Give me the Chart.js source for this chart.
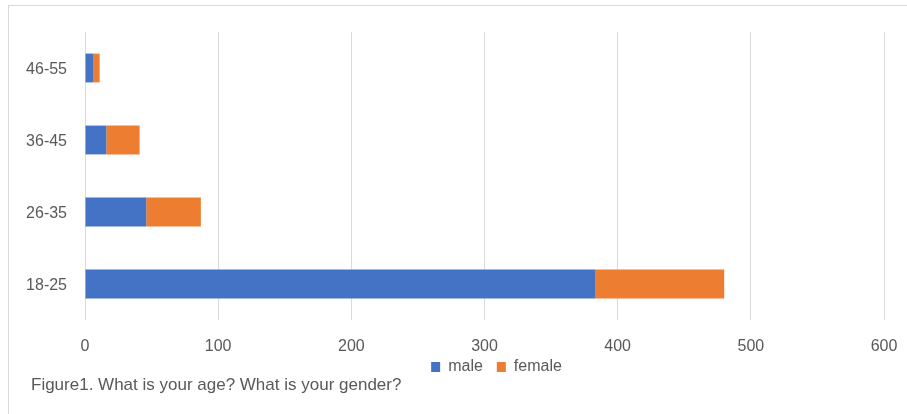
<!DOCTYPE html>
<html><head><meta charset="utf-8">
<script src="https://cdn.jsdelivr.net/npm/chart.js@4.4.0/dist/chart.umd.min.js"></script>
<style>
html,body{margin:0;padding:0;width:907px;height:414px;overflow:hidden;background:#fff;}
#frame{position:absolute;left:8px;top:5px;width:1200px;height:1200px;border:1px solid #d9d9d9;box-sizing:border-box;}
#c{position:absolute;left:0;top:0;}
#caption{position:absolute;left:31px;top:375px;font:17px "Liberation Sans",Arial,sans-serif;color:#595959;white-space:nowrap;}
</style></head><body>
<div id="frame"></div>
<canvas id="c" width="907" height="414"></canvas>
<div id="caption">Figure1. What is your age? What is your gender?</div>
<script>
const categories = ['18-25', '26-35', '36-45', '46-55'];
const male = [383, 46, 16, 6];
const female = [97, 41, 25, 5];
const seriesNames = ['male', 'female'];
const xMin = 0, xMax = 600, xStep = 100;

const FONT = {family: '"Liberation Sans", Arial, sans-serif', size: 16};
const TEXT = '#595959';
const GRID = '#d9d9d9';

const shiftLegend = {
  id: 'shiftLegend',
  afterLayout(chart) {
    const lg = chart.legend;
    if (lg) { lg.left += 12; lg.right += 12; lg.top -= 11; lg.bottom -= 11; }
  }
};

new Chart(document.getElementById('c'), {
  type: 'bar',
  data: {
    labels: categories,
    datasets: [
      {label: seriesNames[0], data: male, backgroundColor: '#4472C4', barPercentage: 0.4, categoryPercentage: 1},
      {label: seriesNames[1], data: female, backgroundColor: '#ED7D31', barPercentage: 0.4, categoryPercentage: 1}
    ]
  },
  options: {
    indexAxis: 'y',
    responsive: false,
    animation: false,
    layout: {padding: {top: 32, left: 0, right: 23, bottom: 18}},
    scales: {
      x: {
        stacked: true, min: xMin, max: xMax,
        ticks: {stepSize: xStep, color: TEXT, font: FONT, padding: 17, maxRotation: 0},
        grid: {color: GRID, lineWidth: 1, drawTicks: false},
        border: {display: false},
        afterFit(s) { s.height = 36; s.paddingLeft = 0; s.paddingRight = 0; }
      },
      y: {
        stacked: true, reverse: true,
        ticks: {color: TEXT, font: FONT, padding: 18, labelOffset: 2},
        grid: {display: false, drawTicks: false},
        border: {display: false},
        afterFit(s) { s.width = 85; }
      }
    },
    plugins: {
      legend: {
        position: 'bottom', fullSize: false,
        labels: {boxWidth: 9, boxHeight: 10, color: TEXT, font: FONT, padding: 14}
      },
      tooltip: {enabled: false}
    }
  },
  plugins: [shiftLegend]
});
</script>
</body></html>
